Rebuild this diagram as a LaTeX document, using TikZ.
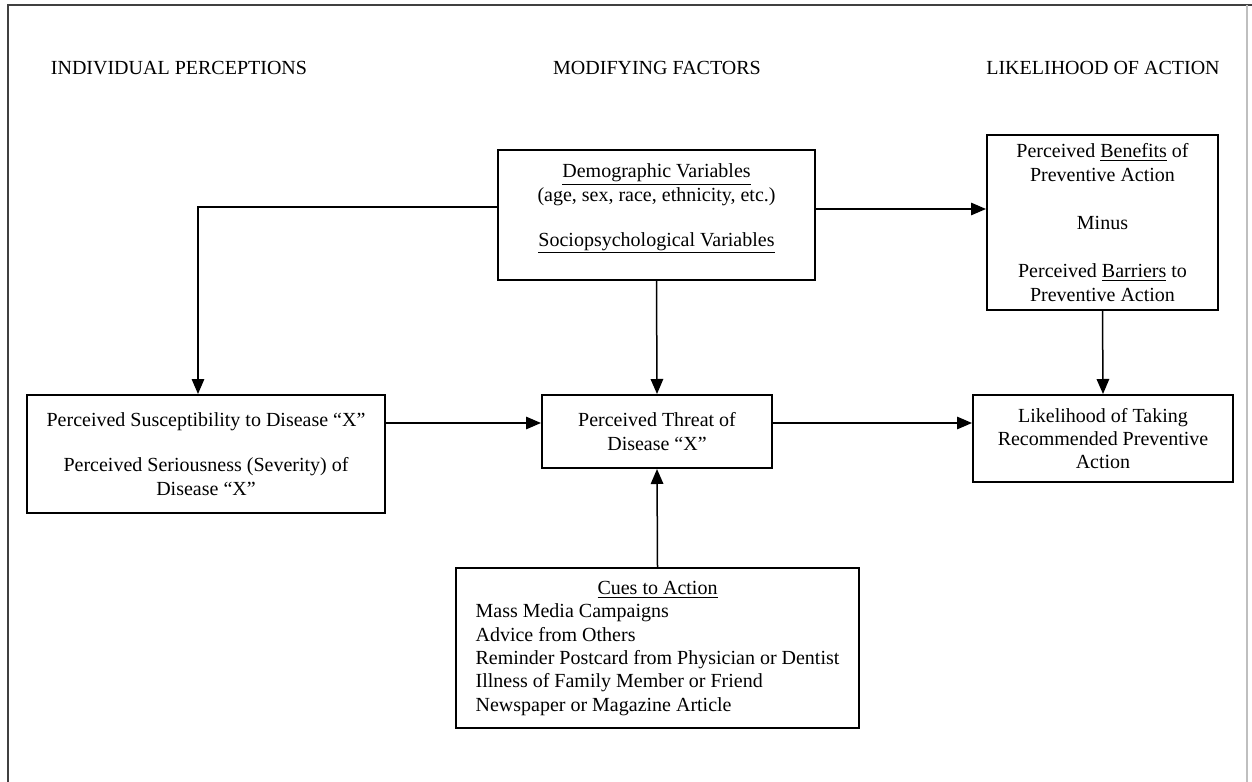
\documentclass[tikz,border=0pt]{standalone}
\usepackage{fontspec}
\setmainfont{Liberation Serif}
\usetikzlibrary{arrows.meta}

\tikzset{
  box/.style={draw,line width=1.2pt,inner sep=0pt,align=center,font=\fontsize{12}{14}\selectfont},
  arr/.style={line width=0.9pt,-{Triangle[length=9pt,width=7.5pt]}},
  head/.style={font=\fontsize{12}{14}\selectfont}
}

\begin{document}
\begin{tikzpicture}[x=0.6pt,y=-0.6pt,line width=1pt,line join=miter]
\useasboundingbox (0,0) rectangle (1252,782);
% page frame
\draw[line width=1.4pt,black!75] (8,782) -- (8,5) -- (1252,5);
\draw[line width=0.8pt,black!25] (1247,5) -- (1247,782);

% column titles
\node[head] (hindiv) at (179,68) {INDIVIDUAL PERCEPTIONS};
\node[head] (hmod) at (657,68) {MODIFYING FACTORS};
\node[head] (hlike) at (1103,68) {LIKELIHOOD OF ACTION};

\node[box,minimum width=190.2pt,minimum height=78pt] (demo) at (656.5,215)
  {\underline{Demographic Variables}\\(age, sex, race, ethnicity, etc.)\\[13pt]\underline{Sociopsychological Variables}\\[-2pt]\mbox{}};
\node[box,minimum width=138.6pt,minimum height=105pt] (ben) at (1102.5,222.5)
  {Perceived \underline{Benefits} of\\Preventive Action\\[15pt]Minus\\[15pt]Perceived \underline{Barriers} to\\Preventive Action};
\node[box,minimum width=214.8pt,minimum height=70.8pt] (susc) at (206,454)
  {Perceived Susceptibility to Disease ``X''\\[13pt]Perceived Seriousness (Severity) of\\Disease ``X''};
\node[box,minimum width=138pt,minimum height=43.8pt] (threat) at (657,431.5)
  {Perceived Threat of\\Disease ``X''};
\node[box,minimum width=156pt,minimum height=52.2pt] (like) at (1103,438.5)
  {Likelihood of Taking\\Recommended Preventive\\Action};
\node[box,minimum width=241.8pt,minimum height=96pt] (cues) at (657.5,648)
  {\begin{tabular}{@{}l@{}}
   \multicolumn{1}{@{}c@{}}{\underline{Cues to Action}}\\
   Mass Media Campaigns\\
   Advice from Others\\
   Reminder Postcard from Physician or Dentist\\
   Illness of Family Member or Friend\\
   Newspaper or Magazine Article
   \end{tabular}};

\coordinate (kneeL) at (198,207);
\coordinate (rowtop) at (0,209);
\coordinate (rowmid) at (0,423);

\draw[arr] (demo.west |- kneeL) -- (kneeL) -- (kneeL |- susc.north);
\draw[arr] (demo.east |- rowtop) -- (ben.west |- rowtop);
\draw[arr] (demo.south) -- (threat.north);
\draw[arr] (cues.north) -- (threat.south);
\draw[arr] (ben.south) -- (like.north);
\draw[arr] (susc.east |- rowmid) -- (threat.west |- rowmid);
\draw[arr] (threat.east |- rowmid) -- (like.west |- rowmid);
\end{tikzpicture}
\end{document}
